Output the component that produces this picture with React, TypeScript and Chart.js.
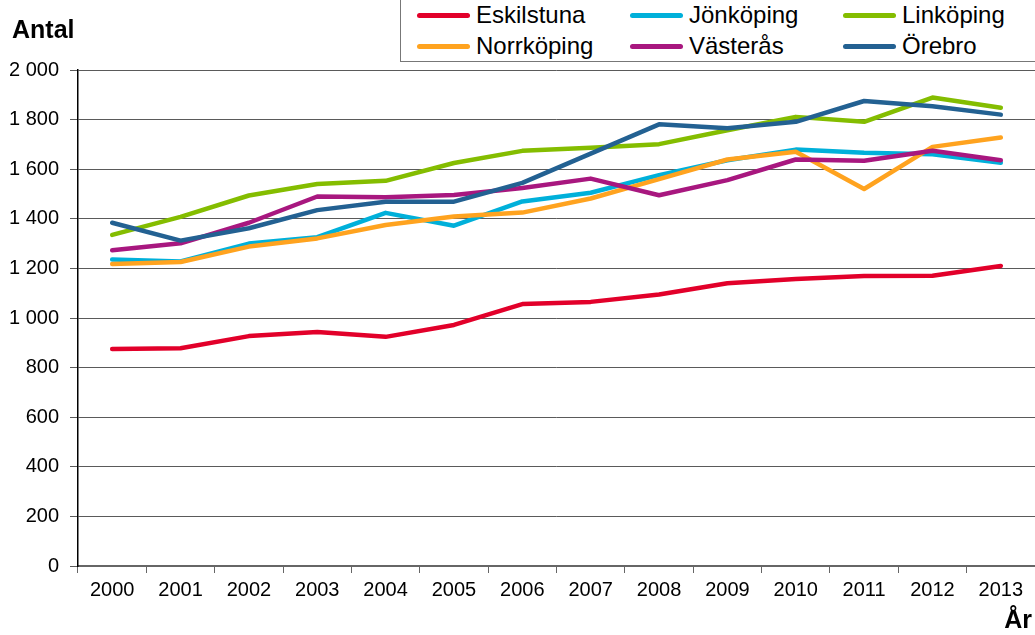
import React, { useEffect, useRef } from "react";
import { Chart, registerables } from "chart.js";

Chart.register(...registerables);

const years = ["2000", "2001", "2002", "2003", "2004", "2005", "2006", "2007", "2008", "2009", "2010", "2011", "2012", "2013"];
const eskilstuna = [875, 878, 927, 944, 924, 972, 1056, 1065, 1095, 1140, 1157, 1169, 1170, 1210];
const jonkoping = [1236, 1228, 1300, 1326, 1424, 1372, 1470, 1505, 1576, 1636, 1679, 1666, 1660, 1626];
const linkoping = [1335, 1408, 1494, 1540, 1553, 1625, 1674, 1686, 1701, 1757, 1811, 1791, 1889, 1848];
const norrkoping = [1218, 1226, 1288, 1321, 1375, 1409, 1425, 1482, 1560, 1639, 1670, 1520, 1690, 1728];
const vasteras = [1273, 1301, 1384, 1490, 1487, 1496, 1524, 1562, 1495, 1556, 1639, 1634, 1674, 1636];
const orebro = [1384, 1312, 1362, 1435, 1469, 1469, 1545, 1663, 1781, 1765, 1791, 1875, 1854, 1820];

const seriesNames = ["Eskilstuna", "Jönköping", "Linköping", "Norrköping", "Västerås", "Örebro"];
const seriesColors = ["#E2002A", "#00B0DA", "#84BD00", "#FFA31F", "#A8177F", "#236192"];
const seriesData = [eskilstuna, jonkoping, linkoping, norrkoping, vasteras, orebro];

const FONT = '"Liberation Sans", Arial, sans-serif';

function formatTick(v: number): string {
  const s = String(Math.round(v));
  return s.replace(/\B(?=(\d{3})+(?!\d))/g, " ");
}

export default function App() {
  const ref = useRef<HTMLCanvasElement | null>(null);

  useEffect(() => {
    if (!ref.current) return;
    const chart = new Chart(ref.current, {
      type: "line",
      data: {
        labels: years,
        datasets: seriesNames.map((name, i) => ({
          label: name,
          data: seriesData[i],
          borderColor: seriesColors[i],
          backgroundColor: seriesColors[i],
          borderWidth: 4.5,
          pointRadius: 0,
          tension: 0,
          fill: false,
          borderCapStyle: "round" as const,
          borderJoinStyle: "round" as const,
          order: seriesNames.length - i,
        })),
      },
      options: {
        responsive: false,
        animation: false,
        layout: { padding: { top: 70, right: 0, bottom: 0, left: 0 } },
        plugins: {
          legend: { display: false },
          tooltip: { enabled: false },
          title: { display: false },
        },
        scales: {
          x: {
            type: "category",
            offset: true,
            grid: {
              drawOnChartArea: false,
              drawTicks: true,
              offset: true,
              tickLength: 7,
              color: "#666666",
              lineWidth: 1,
            },
            border: { display: true, color: "#666666", width: 2 },
            ticks: {
              color: "#000000",
              font: { family: FONT, size: 20 },
              padding: 5,
              maxRotation: 0,
              autoSkip: false,
            },
            afterFit: (scale: any) => {
              scale.height = 69;
            },
          },
          y: {
            min: 0,
            max: 2000,
            ticks: {
              stepSize: 200,
              color: "#000000",
              font: { family: FONT, size: 20 },
              padding: 11,
              callback: (v: any) => formatTick(Number(v)),
            },
            grid: {
              color: "#5a5a5a",
              lineWidth: 1,
              tickLength: 8,
              drawTicks: true,
            },
            border: { display: true, color: "#000000", width: 1.5 },
            afterFit: (scale: any) => {
              scale.width = 78;
            },
          },
        },
      },
    });
    return () => chart.destroy();
  }, []);

  const legendCols = [0, 213, 426];
  return (
    <div style={{ position: "absolute", left: 0, top: 0, width: 1035, height: 635, overflow: "hidden", background: "#fff", fontFamily: FONT }}>
      <canvas ref={ref} width={1035} height={635} style={{ display: "block", position: "absolute", left: 0, top: 0 }} />
      <div style={{ position: "absolute", left: 12, top: 14, fontSize: 25, fontWeight: "bold", color: "#000", lineHeight: "30px" }}>Antal</div>
      <div style={{ position: "absolute", right: 3, top: 604, fontSize: 25, fontWeight: "bold", color: "#000", lineHeight: "30px" }}>År</div>
      <div style={{ position: "absolute", left: 400, top: -2, width: 660, height: 62, border: "1px solid #777", background: "#fff" }}>
        {seriesNames.map((name, i) => {
          const col = i % 3;
          const row = Math.floor(i / 3);
          const cy = row === 0 ? 16 : 47;
          return (
            <div key={name}>
              <div style={{ position: "absolute", left: 16 + legendCols[col], top: cy - 2.5, width: 53, height: 5, borderRadius: 3, background: seriesColors[i] }} />
              <div style={{ position: "absolute", left: 75 + legendCols[col], top: cy - 15, fontSize: 24, lineHeight: "30px", color: "#000", whiteSpace: "nowrap" }}>{name}</div>
            </div>
          );
        })}
      </div>
    </div>
  );
}
